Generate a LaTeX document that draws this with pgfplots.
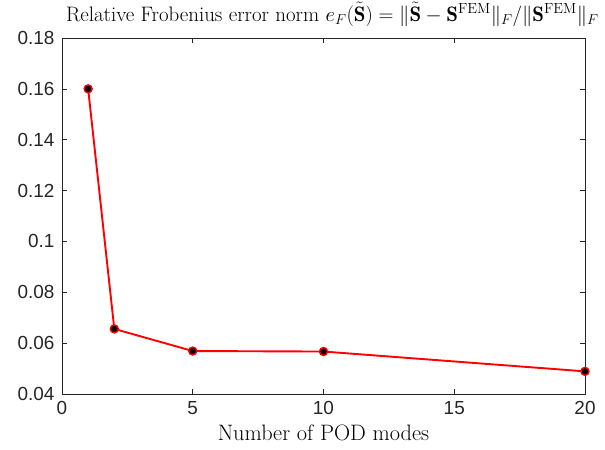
\documentclass[border=0pt]{standalone}
\usepackage{pgfplots}
\pgfplotsset{compat=1.18}
\usepackage{fontspec}
\newfontfamily\hel{Liberation Sans}
\begin{document}
\begin{tikzpicture}
\useasboundingbox (-62bp,-56bp) rectangle (543bp,394bp);
\begin{axis}[
  at={(0,0)}, anchor=south west,
  scale only axis, width=523bp, height=356bp,
  xmin=0, xmax=20, ymin=0.04, ymax=0.18,
  xtick={0,5,10,15,20},
  ytick={0.04,0.06,0.08,0.1,0.12,0.14,0.16,0.18},
  tick align=inside, tickpos=both,
  major tick length=5bp,
  axis line style={black!85, line width=0.6bp},
  every tick/.style={black!85, line width=0.6bp},
  /pgf/number format/assume math mode=true,
  yticklabel style={/pgf/number format/fixed, /pgf/number format/precision=2},
  ticklabel style={font=\hel\fontsize{19}{19}\selectfont, text=black!85},
  xticklabel style={yshift=-4bp},
  yticklabel style={xshift=-4bp},
  title={Relative Frobenius error norm $e_F(\tilde{\mathbf{S}}) = \|\tilde{\mathbf{S}}-\mathbf{S}^{\mathrm{FEM}}\|_F/\|\mathbf{S}^{\mathrm{FEM}}\|_F$},
  title style={at={(0.517,1)}, anchor=base, yshift=11bp, font=\fontsize{21}{21}\selectfont},
  xlabel={Number of POD modes},
  xlabel style={at={(0.5,0)}, anchor=base, yshift=-46bp, font=\fontsize{22.4}{22.4}\selectfont},
]
\addplot[red, line width=1.9bp, mark=*, mark size=4bp,
  mark options={fill=black, draw=red, line width=1.4bp}]
  coordinates {(1,0.160) (2,0.0656) (5,0.0569) (10,0.0567) (20,0.0489)};
\end{axis}
\end{tikzpicture}
\end{document}
